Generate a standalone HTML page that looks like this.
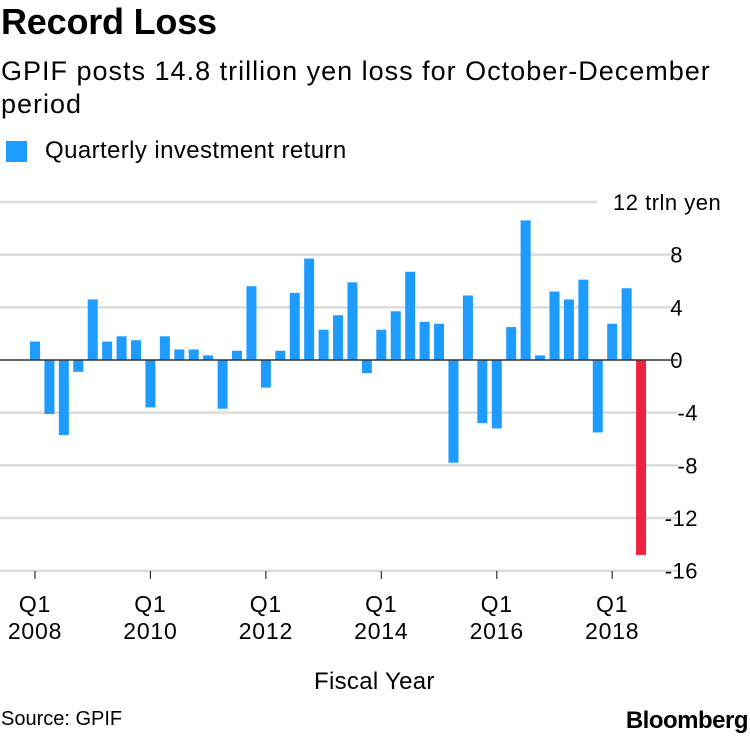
<!DOCTYPE html>
<html><head><meta charset="utf-8"><style>
body{margin:0;background:#fff;font-family:"Liberation Sans",Arial,sans-serif;color:#000;}
#wrap{position:relative;width:750px;height:736px;overflow:hidden;}
.t{position:absolute;white-space:nowrap;}
</style></head><body>
<div id="wrap">
<div class="t" style="left:1px;top:1px;font-size:36px;font-weight:bold;letter-spacing:-0.2px">Record Loss</div>
<div class="t" style="left:1px;top:55px;font-size:27px;letter-spacing:1.0px;line-height:33px;white-space:normal;width:730px">GPIF posts 14.8 trillion yen loss for October-December period</div>
<div style="position:absolute;left:6px;top:141px;width:21px;height:21px;background:#1e9bff"></div>
<div class="t" style="left:45px;top:137px;font-size:24px;letter-spacing:0.4px">Quarterly investment return</div>
<svg id="chart" width="750" height="736" style="position:absolute;left:0;top:0"></svg>
<div class="t" style="left:314px;top:668px;font-size:24px;letter-spacing:0.3px">Fiscal Year</div>
<div class="t" style="left:1px;top:708px;font-size:20px">Source: GPIF</div>
<div class="t" style="right:2px;top:707px;font-size:24px;font-weight:bold;letter-spacing:-0.5px">Bloomberg</div>
</div>
<script>
const values=[1.4,-4.1,-5.7,-0.9,4.6,1.4,1.8,1.5,-3.6,1.8,0.8,0.8,0.35,-3.7,0.7,5.6,-2.1,0.7,5.1,7.7,2.3,3.4,5.9,-1.0,2.3,3.7,6.7,2.9,2.75,-7.8,4.9,-4.8,-5.2,2.5,10.6,0.35,5.2,4.6,6.1,-5.5,2.75,5.45,-14.8];
const yTicks=[12,8,4,0,-4,-8,-12,-16];
const xTickIdx=[0,8,16,24,32,40];
const xTickLabels=[["Q1","2008"],["Q1","2010"],["Q1","2012"],["Q1","2014"],["Q1","2016"],["Q1","2018"]];
const NS="http://www.w3.org/2000/svg";
const svg=document.getElementById('chart');
const y=v=>360-v*13.17;
const x=i=>35+i*14.43;
function mk(tag,attrs){const e=document.createElementNS(NS,tag);for(const k in attrs)e.setAttribute(k,attrs[k]);svg.appendChild(e);return e;}
yTicks.forEach(t=>{
  if(t!==0){const g=mk('line',{x1:0,x2:t===12?597:678,y1:y(t),y2:y(t),stroke:'#dcdcdc','stroke-width':2.5});
  
  }
  const lb=mk('text',{x:t===12?613:(t<0?698:683),y:y(t)+8,'font-size':22,'letter-spacing':0.5,'text-anchor':t===12?'start':'end','font-family':'Liberation Sans, Arial, sans-serif'});
  lb.textContent=t===12?'12 trln yen':String(t);
  
  
});
values.forEach((v,i)=>{
  const top=Math.min(y(v),y(0)),h=Math.abs(y(v)-y(0));
  const r=mk('rect',{x:x(i)-5,y:top,width:10,height:h,fill:i===values.length-1?'#ee2241':'#1e9bff'});
  
  
});
const z=mk('line',{x1:0,x2:678,y1:y(0),y2:y(0),stroke:'#333','stroke-width':1.5});


xTickIdx.forEach((idx,k)=>{
  const tk=mk('line',{x1:x(idx),x2:x(idx),y1:571,y2:579,stroke:'#333','stroke-width':1.2});
  
  
  xTickLabels[k].forEach((s,j)=>{
    const tl=mk('text',{x:x(idx),y:612+j*27,'font-size':23,'letter-spacing':0.8,'text-anchor':'middle','font-family':'Liberation Sans, Arial, sans-serif'});
    tl.textContent=s;
    
    
  });
});
</script>
</body></html>
